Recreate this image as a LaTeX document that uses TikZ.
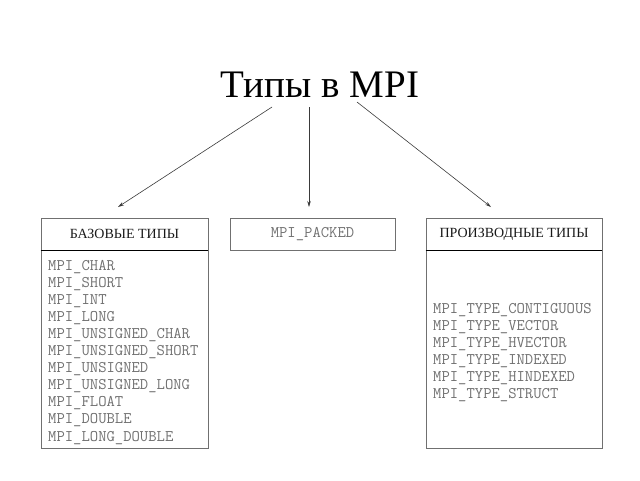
\documentclass[tikz,border=0pt]{standalone}
\usepackage{fontspec}
\setmainfont{Liberation Serif}
\usetikzlibrary{arrows.meta}
\definecolor{boxgray}{HTML}{707070}
\definecolor{codegray}{HTML}{707070}
\definecolor{linegray}{HTML}{3A3A3A}
\newcommand\codefnt{\ttfamily\fontsize{16.2}{18}\selectfont}
\tikzset{
  hdrbox/.style={draw=boxgray, line width=0.9pt, minimum height=32pt, inner sep=0pt, font=\fontsize{14}{16}\selectfont, text=black!90},
  bodybox/.style={draw=boxgray, line width=0.9pt, inner sep=0pt},
  codeline/.style={anchor=base west, inner sep=0pt, text=codegray, font=\codefnt},
  conn/.style={draw=linegray, line width=0.6pt, -{Stealth[length=6pt,width=3.5pt]}}
}
\begin{document}
\begin{tikzpicture}[x=1pt,y=-1pt]
\useasboundingbox (0,0) rectangle (640,480);
\node[anchor=base, inner sep=0pt, font=\fontsize{39}{44}\selectfont] (title) at (320,97) {Типы в MPI};
% boxes
\node[bodybox, minimum width=167pt, minimum height=198pt] (bb) at (124.5,349) {};
\node[hdrbox, minimum width=167pt] (bh) at (124.5,234) {БАЗОВЫЕ ТИПЫ};
\node[hdrbox, minimum width=165pt, font=\codefnt, text=codegray] (pk) at (312.5,234) {MPI\_PACKED};
\node[bodybox, minimum width=176pt, minimum height=198pt] (db) at (514,349) {};
\node[hdrbox, minimum width=176pt] (dh) at (514,234) {ПРОИЗВОДНЫЕ ТИПЫ};
\draw[black, line width=1pt] (bh.south west) -- (bh.south east);
\draw[black, line width=1pt] (dh.south west) -- (dh.south east);
% base types
\foreach \t [count=\i] in {MPI\_CHAR,MPI\_SHORT,MPI\_INT,MPI\_LONG,MPI\_UNSIGNED\_CHAR,MPI\_UNSIGNED\_SHORT,MPI\_UNSIGNED,MPI\_UNSIGNED\_LONG,MPI\_FLOAT,MPI\_DOUBLE,MPI\_LONG\_DOUBLE}
  \node[codeline] (b\i) at (48,{270+(\i-1)*17.1}) {\t};
% derived types
\foreach \t [count=\i] in {MPI\_TYPE\_CONTIGUOUS,MPI\_TYPE\_VECTOR,MPI\_TYPE\_HVECTOR,MPI\_TYPE\_INDEXED,MPI\_TYPE\_HINDEXED,MPI\_TYPE\_STRUCT}
  \node[codeline] (d\i) at (433,{313+(\i-1)*17.1}) {\t};
% arrows
\coordinate (s1) at (272,107);
\coordinate (e1) at (118,207);
\coordinate (s2) at (309,107);
\coordinate (e2) at (309,207);
\coordinate (s3) at (357,102);
\coordinate (e3) at (491,207);
\draw[conn] (s1) -- (e1);
\draw[conn] (s2) -- (e2);
\draw[conn] (s3) -- (e3);
\end{tikzpicture}
\end{document}
